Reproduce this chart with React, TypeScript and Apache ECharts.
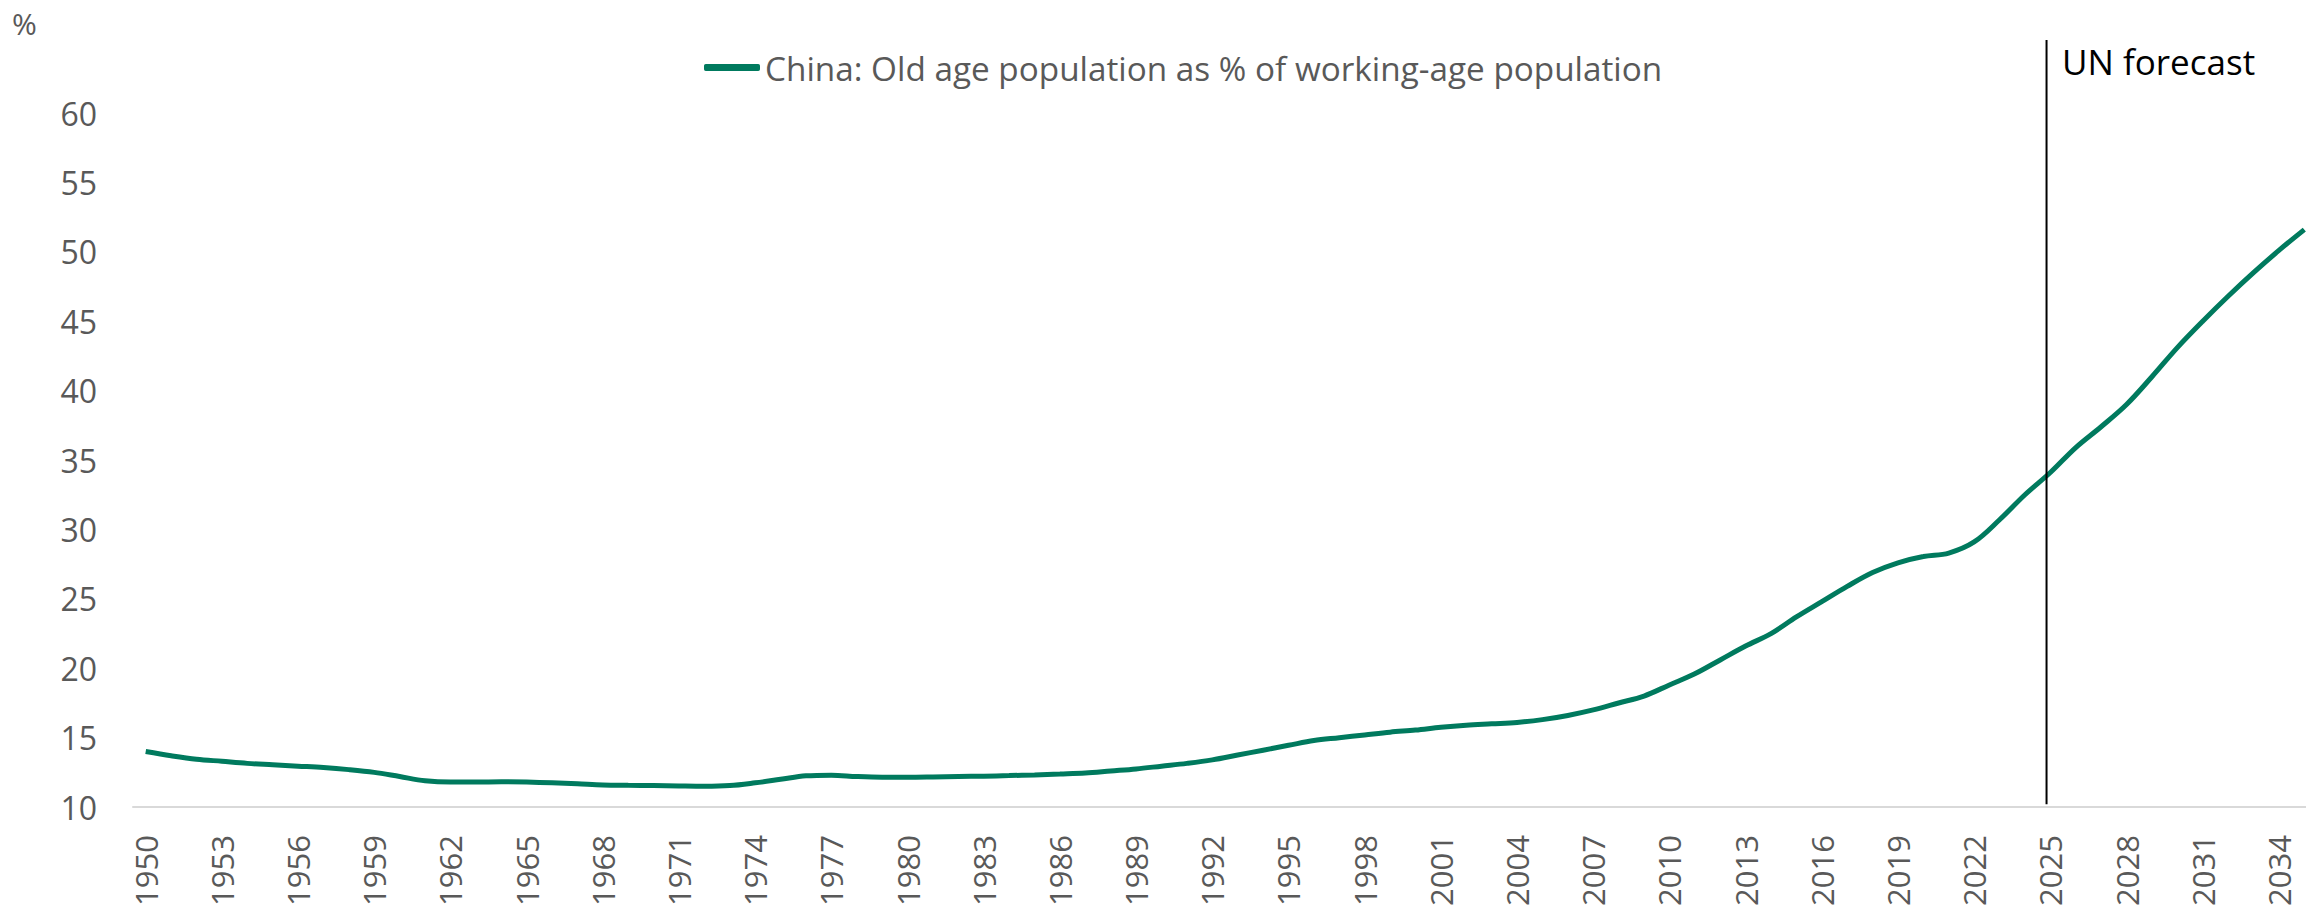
import React, { useEffect, useRef } from "react";
import * as echarts from "echarts";

const years: string[] = [];
for (let y = 1950; y <= 2035; y++) years.push(String(y));

const oldAgeRatio: number[] = [
  14.0, 13.7, 13.45, 13.3, 13.15, 13.05, 12.95, 12.85, 12.7, 12.5,
  12.2, 11.9, 11.8, 11.8, 11.82, 11.8, 11.75, 11.68, 11.6, 11.57,
  11.55, 11.52, 11.5, 11.55, 11.75, 12.0, 12.25, 12.3, 12.2, 12.15,
  12.15, 12.17, 12.2, 12.23, 12.27, 12.32, 12.38, 12.45, 12.6, 12.75,
  12.95, 13.15, 13.4, 13.75, 14.1, 14.45, 14.8, 15.0, 15.2, 15.4,
  15.55, 15.75, 15.9, 16.0, 16.1, 16.3, 16.6, 17.0, 17.5, 18.0,
  18.8, 19.6, 20.6, 21.6, 22.5, 23.7, 24.8, 25.9, 26.9, 27.6,
  28.05, 28.3, 29.1, 30.7, 32.5, 34.1, 35.9, 37.4, 39.0, 41.0,
  43.1, 45.0, 46.8, 48.5, 50.1, 51.6,
];

// vertical marker separating history from the UN forecast (x in years, y in %)
const forecastLine: [number, number][] = [
  [2024.85, 10.2],
  [2024.85, 65.25],
];
const yTicks = { min: 10, max: 60, interval: 5 };
const seriesName = "China: Old age population as % of working-age population";

export default function App() {
  const ref = useRef<HTMLDivElement>(null);
  useEffect(() => {
    const chart = echarts.init(ref.current!, null, { renderer: "svg" });
    const font = "'Open Sans', 'Noto Sans', sans-serif";
    chart.setOption({
      animation: false,
      textStyle: { fontFamily: font },
      grid: { left: 133, top: 113, height: 695, width: 2184, containLabel: false },
      legend: {
        show: true,
        left: 699,
        top: 46,
        icon: "roundRect",
        itemWidth: 56,
        itemHeight: 7,
        itemGap: 5,
        textStyle: { color: "#595959", fontSize: 33.3, fontFamily: font },
        data: [{ name: seriesName }],
      },
      xAxis: [
        {
          type: "category",
          data: years,
          boundaryGap: true,
          axisLine: { show: true, lineStyle: { color: "#d9d9d9", width: 2 } },
          axisTick: { show: false },
          axisLabel: {
            interval: 2,
            rotate: 90,
            margin: 28,
            color: "#595959",
            fontSize: 31,
            fontFamily: font,
          },
          splitLine: { show: false },
        },
        {
          type: "value",
          min: 1949.5,
          max: 2035.5,
          show: false,
          splitLine: { show: false },
        },
      ],
      yAxis: {
        type: "value",
        min: yTicks.min,
        max: yTicks.max,
        interval: yTicks.interval,
        axisLine: { show: false },
        axisTick: { show: false },
        splitLine: { show: false },
        axisLabel: { color: "#595959", fontSize: 32, margin: 36, fontFamily: font },
      },
      series: [
        {
          name: seriesName,
          type: "line",
          data: oldAgeRatio,
          smooth: 0.35,
          showSymbol: false,
          symbol: "none",
          lineStyle: { color: "#007A5E", width: 5 },
          itemStyle: { color: "#007A5E" },
        },
        {
          name: "forecast",
          type: "line",
          xAxisIndex: 1,
          data: forecastLine,
          clip: false,
          silent: true,
          showSymbol: false,
          symbol: "none",
          lineStyle: { color: "#000000", width: 2 },
          itemStyle: { color: "#000000" },
        },
      ],
      graphic: [
        {
          type: "text",
          left: 12,
          top: 8,
          style: { text: "%", fill: "#595959", fontSize: 30, fontFamily: font },
        },
        {
          type: "text",
          left: 2062,
          top: 44,
          style: { text: "UN forecast", fill: "#000000", fontSize: 35, fontFamily: font },
        },
      ],
    });
    return () => chart.dispose();
  }, []);
  return (
    <div
      style={{
        position: "absolute",
        left: 0,
        top: 0,
        width: 2306,
        height: 909,
        overflow: "hidden",
      }}
    >
      <div ref={ref} style={{ width: 2320, height: 909 }} />
    </div>
  );
}
